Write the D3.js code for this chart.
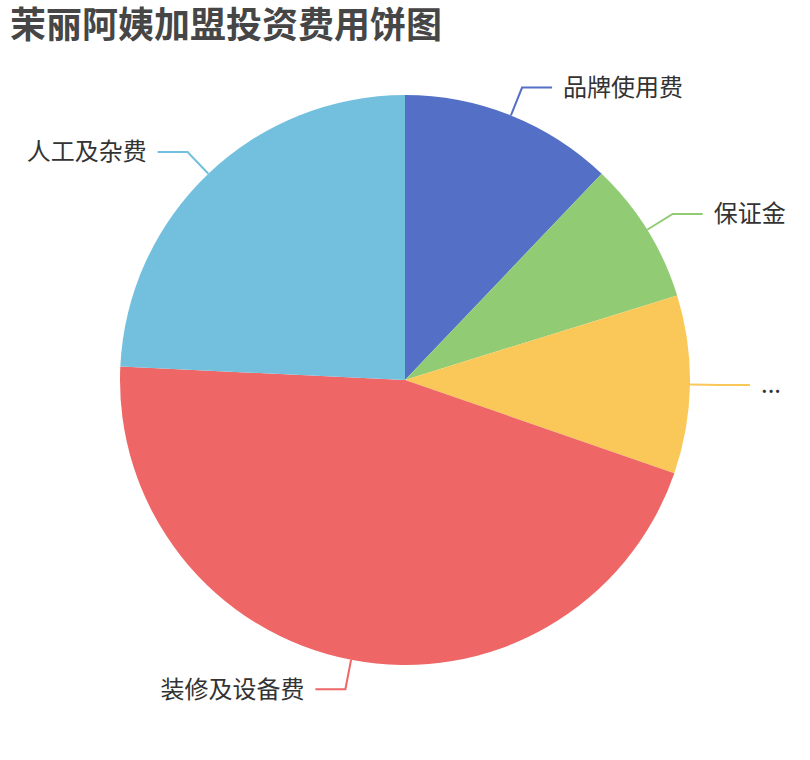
<!DOCTYPE html>
<html>
<head>
<meta charset="utf-8">
<script src="https://cdn.jsdelivr.net/npm/d3@7"></script>
<style>
  body { margin: 0; background: #fff; }
  svg text { font-family: "Noto Sans CJK SC", "Noto Sans", sans-serif; }
</style>
</head>
<body>
<div id="chart"></div>
<script>
// Chart data
var categories = ["品牌使用费", "保证金", "...", "装修及设备费", "人工及杂费"];
var values = [12, 8, 10, 45, 24];
var colors = ["#5470c6", "#91cc75", "#fac858", "#ee6666", "#73c0de"];

// Set up chart area
var svgWidth = 810;
var svgHeight = 760;
var radius = Math.min(svgWidth, svgHeight) / 2 * 0.75;

var svg = d3.select("#chart")
    .append("svg")
        .attr("width", svgWidth)
        .attr("height", svgHeight);

// Title
svg.append("text")
    .attr("x", 10)
    .attr("y", 38)
    .attr("font-size", 36)
    .attr("font-weight", "bold")
    .attr("fill", "#464646")
    .text("茉丽阿姨加盟投资费用饼图");

var g = svg.append("g")
    .attr("transform", `translate(${svgWidth / 2}, ${svgHeight / 2})`);

var pieData = categories.map(function(c, i) {
    return { name: c, value: values[i], color: colors[i] };
});

var pie = d3.pie()
    .sort(null)
    .value(d => d.value);

var arc = d3.arc()
    .innerRadius(0)
    .outerRadius(radius);

var arcs = pie(pieData);

// Slices
g.selectAll("path.slice")
    .data(arcs)
    .enter()
    .append("path")
        .attr("class", "slice")
        .attr("d", arc)
        .attr("fill", d => d.data.color);

// Label lines and labels
var len1 = 30, len2 = 30, gap = 11;

function point(angle, r) {
    return [Math.sin(angle) * r, -Math.cos(angle) * r];
}

arcs.forEach(function(d) {
    var mid = (d.startAngle + d.endAngle) / 2;
    var right = Math.sin(mid) >= 0;
    var p0 = point(mid, radius);
    var p1 = point(mid, radius + len1);
    var p2 = [p1[0] + (right ? len2 : -len2), p1[1]];

    g.append("polyline")
        .attr("points", [p0, p1, p2].map(p => p.join(",")).join(" "))
        .attr("fill", "none")
        .attr("stroke", d.data.color)
        .attr("stroke-width", 2);

    g.append("text")
        .attr("x", p2[0] + (right ? gap : -gap))
        .attr("y", p2[1])
        .attr("dy", "0.35em")
        .attr("text-anchor", right ? "start" : "end")
        .attr("font-size", 24)
        .attr("fill", "#333")
        .text(d.data.name);
});
</script>
</body>
</html>
